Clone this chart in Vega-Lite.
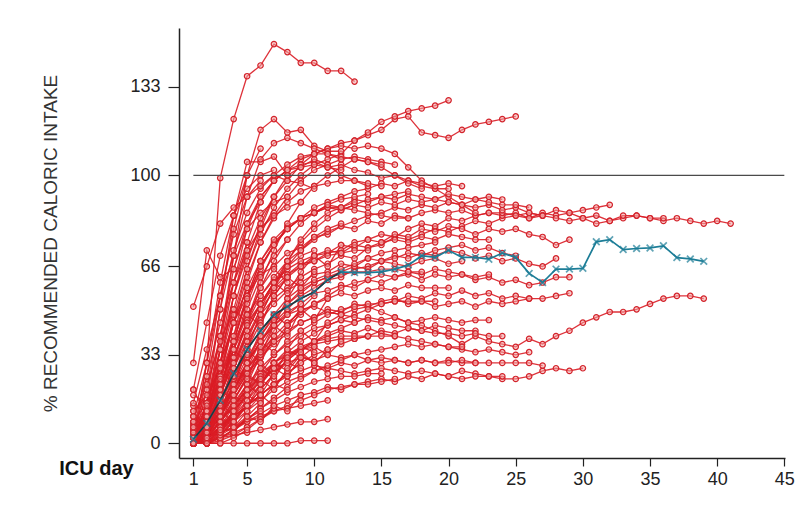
{
"$schema":"https://vega.github.io/schema/vega-lite/v6.json",
"width":606,"height":430,"autosize":"none",
"padding":{"left":179,"top":28,"right":27,"bottom":54},
"config":{"view":{"stroke":null},"font":"Liberation Sans"},
"datasets":{
"mean":[{"d":1,"v":1.5},{"d":2,"v":7.5},{"d":3,"v":16},{"d":4,"v":26},{"d":5,"v":35},{"d":6,"v":42},{"d":7,"v":48},{"d":8,"v":51},{"d":9,"v":54},{"d":10,"v":56.5},{"d":11,"v":61},{"d":12,"v":64},{"d":13,"v":63.7},{"d":14,"v":63.7},{"d":15,"v":64},{"d":16,"v":65},{"d":17,"v":66.5},{"d":18,"v":70},{"d":19,"v":69.4},{"d":20,"v":72},{"d":21,"v":69.4},{"d":22,"v":69.4},{"d":23,"v":68.7},{"d":24,"v":71},{"d":25,"v":69.4},{"d":26,"v":63.4},{"d":27,"v":60},{"d":28,"v":65},{"d":29,"v":65},{"d":30,"v":65.3},{"d":31,"v":75.2},{"d":32,"v":76},{"d":33,"v":72.3},{"d":34,"v":72.7},{"d":35,"v":72.9},{"d":36,"v":73.7},{"d":37,"v":69.3},{"d":38,"v":68.8},{"d":39,"v":67.9}],
"ref":[{"d":1,"v":100},{"d":45,"v":100}],
"red":[
{"p":1,"d":1,"v":0},{"p":1,"d":2,"v":6},{"p":1,"d":3,"v":18},{"p":1,"d":4,"v":30},{"p":1,"d":5,"v":40},{"p":1,"d":6,"v":48},{"p":1,"d":7,"v":54},{"p":1,"d":8,"v":58},{"p":1,"d":9,"v":62},{"p":1,"d":10,"v":65},{"p":1,"d":11,"v":67},{"p":1,"d":12,"v":70},{"p":1,"d":13,"v":69},{"p":1,"d":14,"v":73},{"p":1,"d":15,"v":74},{"p":1,"d":16,"v":77},{"p":1,"d":17,"v":76},{"p":1,"d":18,"v":78},{"p":1,"d":19,"v":80},{"p":1,"d":20,"v":79},{"p":1,"d":21,"v":81},{"p":1,"d":22,"v":83},{"p":1,"d":23,"v":82},{"p":1,"d":24,"v":84},{"p":1,"d":25,"v":85},{"p":1,"d":26,"v":84},{"p":1,"d":27,"v":86},{"p":1,"d":28,"v":85},{"p":1,"d":29,"v":86},{"p":1,"d":30,"v":84},{"p":1,"d":31,"v":85},{"p":1,"d":32,"v":83},{"p":1,"d":33,"v":84},{"p":1,"d":34,"v":85},{"p":1,"d":35,"v":84},{"p":1,"d":36,"v":83},{"p":1,"d":37,"v":84},{"p":1,"d":38,"v":83},{"p":1,"d":39,"v":82},{"p":1,"d":40,"v":83},{"p":1,"d":41,"v":82},
{"p":2,"d":1,"v":5},{"p":2,"d":2,"v":10},{"p":2,"d":3,"v":25},{"p":2,"d":4,"v":38},{"p":2,"d":5,"v":48},{"p":2,"d":6,"v":55},{"p":2,"d":7,"v":61},{"p":2,"d":8,"v":63},{"p":2,"d":9,"v":67},{"p":2,"d":10,"v":68},{"p":2,"d":11,"v":71},{"p":2,"d":12,"v":72},{"p":2,"d":13,"v":75},{"p":2,"d":14,"v":76},{"p":2,"d":15,"v":78},{"p":2,"d":16,"v":77},{"p":2,"d":17,"v":80},{"p":2,"d":18,"v":82},{"p":2,"d":19,"v":81},{"p":2,"d":20,"v":84},{"p":2,"d":21,"v":83},{"p":2,"d":22,"v":85},{"p":2,"d":23,"v":86},{"p":2,"d":24,"v":85},{"p":2,"d":25,"v":86},{"p":2,"d":26,"v":84},{"p":2,"d":27,"v":85},{"p":2,"d":28,"v":84},{"p":2,"d":29,"v":83},{"p":2,"d":30,"v":84},{"p":2,"d":31,"v":82},{"p":2,"d":32,"v":83},{"p":2,"d":33,"v":85},{"p":2,"d":34,"v":85},{"p":2,"d":35,"v":84},{"p":2,"d":36,"v":84},
{"p":3,"d":1,"v":2},{"p":3,"d":2,"v":15},{"p":3,"d":3,"v":30},{"p":3,"d":4,"v":45},{"p":3,"d":5,"v":55},{"p":3,"d":6,"v":63},{"p":3,"d":7,"v":66},{"p":3,"d":8,"v":71},{"p":3,"d":9,"v":73},{"p":3,"d":10,"v":77},{"p":3,"d":11,"v":78},{"p":3,"d":12,"v":81},{"p":3,"d":13,"v":80},{"p":3,"d":14,"v":83},{"p":3,"d":15,"v":82},{"p":3,"d":16,"v":85},{"p":3,"d":17,"v":84},{"p":3,"d":18,"v":86},{"p":3,"d":19,"v":87},{"p":3,"d":20,"v":86},{"p":3,"d":21,"v":87},{"p":3,"d":22,"v":85},{"p":3,"d":23,"v":86},{"p":3,"d":24,"v":86},{"p":3,"d":25,"v":85},{"p":3,"d":26,"v":86},{"p":3,"d":27,"v":85},{"p":3,"d":28,"v":87},{"p":3,"d":29,"v":86},{"p":3,"d":30,"v":87},{"p":3,"d":31,"v":88},{"p":3,"d":32,"v":89},
{"p":4,"d":1,"v":0},{"p":4,"d":2,"v":8},{"p":4,"d":3,"v":22},{"p":4,"d":4,"v":35},{"p":4,"d":5,"v":45},{"p":4,"d":6,"v":52},{"p":4,"d":7,"v":58},{"p":4,"d":8,"v":63},{"p":4,"d":9,"v":66},{"p":4,"d":10,"v":70},{"p":4,"d":11,"v":71},{"p":4,"d":12,"v":74},{"p":4,"d":13,"v":73},{"p":4,"d":14,"v":76},{"p":4,"d":15,"v":75},{"p":4,"d":16,"v":78},{"p":4,"d":17,"v":77},{"p":4,"d":18,"v":80},{"p":4,"d":19,"v":79},{"p":4,"d":20,"v":81},{"p":4,"d":21,"v":80},{"p":4,"d":22,"v":78},{"p":4,"d":23,"v":80},{"p":4,"d":24,"v":79},{"p":4,"d":25,"v":80},{"p":4,"d":26,"v":78},{"p":4,"d":27,"v":77},{"p":4,"d":28,"v":74},{"p":4,"d":29,"v":76},
{"p":5,"d":1,"v":10},{"p":5,"d":2,"v":5},{"p":5,"d":3,"v":15},{"p":5,"d":4,"v":28},{"p":5,"d":5,"v":38},{"p":5,"d":6,"v":46},{"p":5,"d":7,"v":52},{"p":5,"d":8,"v":57},{"p":5,"d":9,"v":60},{"p":5,"d":10,"v":63},{"p":5,"d":11,"v":64},{"p":5,"d":12,"v":67},{"p":5,"d":13,"v":66},{"p":5,"d":14,"v":69},{"p":5,"d":15,"v":68},{"p":5,"d":16,"v":70},{"p":5,"d":17,"v":69},{"p":5,"d":18,"v":71},{"p":5,"d":19,"v":70},{"p":5,"d":20,"v":72},{"p":5,"d":21,"v":71},{"p":5,"d":22,"v":69},{"p":5,"d":23,"v":70},{"p":5,"d":24,"v":68},{"p":5,"d":25,"v":69},{"p":5,"d":26,"v":67},{"p":5,"d":27,"v":66},{"p":5,"d":28,"v":69},
{"p":6,"d":1,"v":0},{"p":6,"d":2,"v":4},{"p":6,"d":3,"v":12},{"p":6,"d":4,"v":22},{"p":6,"d":5,"v":30},{"p":6,"d":6,"v":38},{"p":6,"d":7,"v":44},{"p":6,"d":8,"v":49},{"p":6,"d":9,"v":52},{"p":6,"d":10,"v":56},{"p":6,"d":11,"v":57},{"p":6,"d":12,"v":59},{"p":6,"d":13,"v":58},{"p":6,"d":14,"v":61},{"p":6,"d":15,"v":60},{"p":6,"d":16,"v":62},{"p":6,"d":17,"v":63},{"p":6,"d":18,"v":61},{"p":6,"d":19,"v":63},{"p":6,"d":20,"v":62},{"p":6,"d":21,"v":63},{"p":6,"d":22,"v":61},{"p":6,"d":23,"v":62},{"p":6,"d":24,"v":60},{"p":6,"d":25,"v":61},{"p":6,"d":26,"v":59},{"p":6,"d":27,"v":60},{"p":6,"d":28,"v":62},{"p":6,"d":29,"v":62},
{"p":7,"d":1,"v":0},{"p":7,"d":2,"v":3},{"p":7,"d":3,"v":10},{"p":7,"d":4,"v":18},{"p":7,"d":5,"v":26},{"p":7,"d":6,"v":32},{"p":7,"d":7,"v":37},{"p":7,"d":8,"v":41},{"p":7,"d":9,"v":45},{"p":7,"d":10,"v":47},{"p":7,"d":11,"v":50},{"p":7,"d":12,"v":49},{"p":7,"d":13,"v":52},{"p":7,"d":14,"v":51},{"p":7,"d":15,"v":53},{"p":7,"d":16,"v":54},{"p":7,"d":17,"v":52},{"p":7,"d":18,"v":53},{"p":7,"d":19,"v":51},{"p":7,"d":20,"v":52},{"p":7,"d":21,"v":53},{"p":7,"d":22,"v":51},{"p":7,"d":23,"v":53},{"p":7,"d":24,"v":52},{"p":7,"d":25,"v":53},{"p":7,"d":26,"v":54},{"p":7,"d":27,"v":54},{"p":7,"d":28,"v":55},{"p":7,"d":29,"v":56},
{"p":8,"d":1,"v":0},{"p":8,"d":2,"v":5},{"p":8,"d":3,"v":12},{"p":8,"d":4,"v":20},{"p":8,"d":5,"v":28},{"p":8,"d":6,"v":33},{"p":8,"d":7,"v":38},{"p":8,"d":8,"v":42},{"p":8,"d":9,"v":45},{"p":8,"d":10,"v":47},{"p":8,"d":11,"v":49},{"p":8,"d":12,"v":48},{"p":8,"d":13,"v":50},{"p":8,"d":14,"v":51},{"p":8,"d":15,"v":49},{"p":8,"d":16,"v":47},{"p":8,"d":17,"v":45},{"p":8,"d":18,"v":44},{"p":8,"d":19,"v":42},{"p":8,"d":20,"v":40},{"p":8,"d":21,"v":37},{"p":8,"d":22,"v":40},{"p":8,"d":23,"v":38},{"p":8,"d":24,"v":37},{"p":8,"d":25,"v":36},{"p":8,"d":26,"v":39},{"p":8,"d":27,"v":37},{"p":8,"d":28,"v":40},{"p":8,"d":29,"v":42},{"p":8,"d":30,"v":45},{"p":8,"d":31,"v":47},{"p":8,"d":32,"v":49},{"p":8,"d":33,"v":49},{"p":8,"d":34,"v":50},{"p":8,"d":35,"v":52},{"p":8,"d":36,"v":54},{"p":8,"d":37,"v":55},{"p":8,"d":38,"v":55},{"p":8,"d":39,"v":54},
{"p":9,"d":1,"v":0},{"p":9,"d":2,"v":2},{"p":9,"d":3,"v":6},{"p":9,"d":4,"v":10},{"p":9,"d":5,"v":14},{"p":9,"d":6,"v":18},{"p":9,"d":7,"v":22},{"p":9,"d":8,"v":25},{"p":9,"d":9,"v":27},{"p":9,"d":10,"v":29},{"p":9,"d":11,"v":28},{"p":9,"d":12,"v":27},{"p":9,"d":13,"v":26},{"p":9,"d":14,"v":27},{"p":9,"d":15,"v":28},{"p":9,"d":16,"v":27},{"p":9,"d":17,"v":26},{"p":9,"d":18,"v":27},{"p":9,"d":19,"v":26},{"p":9,"d":20,"v":25},{"p":9,"d":21,"v":27},{"p":9,"d":22,"v":26},{"p":9,"d":23,"v":25},{"p":9,"d":24,"v":24},{"p":9,"d":25,"v":24},{"p":9,"d":26,"v":25},{"p":9,"d":27,"v":27},{"p":9,"d":28,"v":28},{"p":9,"d":29,"v":27},{"p":9,"d":30,"v":28},
{"p":10,"d":1,"v":0},{"p":10,"d":2,"v":3},{"p":10,"d":3,"v":8},{"p":10,"d":4,"v":14},{"p":10,"d":5,"v":20},{"p":10,"d":6,"v":24},{"p":10,"d":7,"v":28},{"p":10,"d":8,"v":30},{"p":10,"d":9,"v":32},{"p":10,"d":10,"v":31},{"p":10,"d":11,"v":33},{"p":10,"d":12,"v":32},{"p":10,"d":13,"v":33},{"p":10,"d":14,"v":31},{"p":10,"d":15,"v":32},{"p":10,"d":16,"v":31},{"p":10,"d":17,"v":30},{"p":10,"d":18,"v":31},{"p":10,"d":19,"v":30},{"p":10,"d":20,"v":31},{"p":10,"d":21,"v":30},{"p":10,"d":22,"v":30},{"p":10,"d":23,"v":30},{"p":10,"d":24,"v":30},{"p":10,"d":25,"v":30},{"p":10,"d":26,"v":30},{"p":10,"d":27,"v":29},
{"p":11,"d":1,"v":0},{"p":11,"d":2,"v":12},{"p":11,"d":3,"v":35},{"p":11,"d":4,"v":60},{"p":11,"d":5,"v":80},{"p":11,"d":6,"v":92},{"p":11,"d":7,"v":98},{"p":11,"d":8,"v":102},{"p":11,"d":9,"v":106},{"p":11,"d":10,"v":108},{"p":11,"d":11,"v":110},{"p":11,"d":12,"v":112},{"p":11,"d":13,"v":113},{"p":11,"d":14,"v":115},{"p":11,"d":15,"v":117},{"p":11,"d":16,"v":121},{"p":11,"d":17,"v":122},{"p":11,"d":18,"v":116},{"p":11,"d":19,"v":115},{"p":11,"d":20,"v":114},{"p":11,"d":21,"v":117},{"p":11,"d":22,"v":119},{"p":11,"d":23,"v":120},{"p":11,"d":24,"v":121},{"p":11,"d":25,"v":122},
{"p":12,"d":1,"v":0},{"p":12,"d":2,"v":8},{"p":12,"d":3,"v":25},{"p":12,"d":4,"v":48},{"p":12,"d":5,"v":65},{"p":12,"d":6,"v":78},{"p":12,"d":7,"v":88},{"p":12,"d":8,"v":95},{"p":12,"d":9,"v":100},{"p":12,"d":10,"v":104},{"p":12,"d":11,"v":106},{"p":12,"d":12,"v":108},{"p":12,"d":13,"v":113},{"p":12,"d":14,"v":116},{"p":12,"d":15,"v":120},{"p":12,"d":16,"v":122},{"p":12,"d":17,"v":124},{"p":12,"d":18,"v":125},{"p":12,"d":19,"v":126},{"p":12,"d":20,"v":128},
{"p":13,"d":1,"v":0},{"p":13,"d":2,"v":10},{"p":13,"d":3,"v":30},{"p":13,"d":4,"v":55},{"p":13,"d":5,"v":72},{"p":13,"d":6,"v":84},{"p":13,"d":7,"v":92},{"p":13,"d":8,"v":98},{"p":13,"d":9,"v":104},{"p":13,"d":10,"v":108},{"p":13,"d":11,"v":110},{"p":13,"d":12,"v":111},{"p":13,"d":13,"v":110},{"p":13,"d":14,"v":111},{"p":13,"d":15,"v":110},{"p":13,"d":16,"v":108},{"p":13,"d":17,"v":103},{"p":13,"d":18,"v":98},{"p":13,"d":19,"v":95},{"p":13,"d":20,"v":92},{"p":13,"d":21,"v":89},{"p":13,"d":22,"v":86},
{"p":14,"d":1,"v":0},{"p":14,"d":2,"v":2},{"p":14,"d":3,"v":8},{"p":14,"d":4,"v":15},{"p":14,"d":5,"v":22},{"p":14,"d":6,"v":28},{"p":14,"d":7,"v":33},{"p":14,"d":8,"v":37},{"p":14,"d":9,"v":40},{"p":14,"d":10,"v":43},{"p":14,"d":11,"v":44},{"p":14,"d":12,"v":46},{"p":14,"d":13,"v":45},{"p":14,"d":14,"v":47},{"p":14,"d":15,"v":46},{"p":14,"d":16,"v":47},{"p":14,"d":17,"v":45},{"p":14,"d":18,"v":46},{"p":14,"d":19,"v":47},{"p":14,"d":20,"v":46},{"p":14,"d":21,"v":45},{"p":14,"d":22,"v":46},{"p":14,"d":23,"v":46},
{"p":15,"d":1,"v":0},{"p":15,"d":2,"v":10},{"p":15,"d":3,"v":28},{"p":15,"d":4,"v":45},{"p":15,"d":5,"v":58},{"p":15,"d":6,"v":68},{"p":15,"d":7,"v":75},{"p":15,"d":8,"v":80},{"p":15,"d":9,"v":84},{"p":15,"d":10,"v":86},{"p":15,"d":11,"v":89},{"p":15,"d":12,"v":88},{"p":15,"d":13,"v":91},{"p":15,"d":14,"v":90},{"p":15,"d":15,"v":92},{"p":15,"d":16,"v":91},{"p":15,"d":17,"v":93},{"p":15,"d":18,"v":92},{"p":15,"d":19,"v":91},{"p":15,"d":20,"v":93},{"p":15,"d":21,"v":92},{"p":15,"d":22,"v":91},{"p":15,"d":23,"v":92},{"p":15,"d":24,"v":91},
{"p":16,"d":1,"v":12},{"p":16,"d":2,"v":5},{"p":16,"d":3,"v":18},{"p":16,"d":4,"v":32},{"p":16,"d":5,"v":45},{"p":16,"d":6,"v":55},{"p":16,"d":7,"v":62},{"p":16,"d":8,"v":68},{"p":16,"d":9,"v":72},{"p":16,"d":10,"v":76},{"p":16,"d":11,"v":79},{"p":16,"d":12,"v":81},{"p":16,"d":13,"v":83},{"p":16,"d":14,"v":85},{"p":16,"d":15,"v":86},{"p":16,"d":16,"v":88},{"p":16,"d":17,"v":87},{"p":16,"d":18,"v":89},{"p":16,"d":19,"v":88},{"p":16,"d":20,"v":90},{"p":16,"d":21,"v":89},{"p":16,"d":22,"v":88},{"p":16,"d":23,"v":89},{"p":16,"d":24,"v":87},{"p":16,"d":25,"v":88},{"p":16,"d":26,"v":86},{"p":16,"d":27,"v":85},
{"p":17,"d":1,"v":0},{"p":17,"d":2,"v":3},{"p":17,"d":3,"v":10},{"p":17,"d":4,"v":20},{"p":17,"d":5,"v":30},{"p":17,"d":6,"v":38},{"p":17,"d":7,"v":45},{"p":17,"d":8,"v":50},{"p":17,"d":9,"v":55},{"p":17,"d":10,"v":58},{"p":17,"d":11,"v":61},{"p":17,"d":12,"v":62},{"p":17,"d":13,"v":65},{"p":17,"d":14,"v":66},{"p":17,"d":15,"v":68},{"p":17,"d":16,"v":69},{"p":17,"d":17,"v":71},{"p":17,"d":18,"v":70},{"p":17,"d":19,"v":72},{"p":17,"d":20,"v":73},{"p":17,"d":21,"v":74},{"p":17,"d":22,"v":72},{"p":17,"d":23,"v":73},{"p":17,"d":24,"v":71},{"p":17,"d":25,"v":70},
{"p":18,"d":1,"v":0},{"p":18,"d":2,"v":2},{"p":18,"d":3,"v":6},{"p":18,"d":4,"v":12},{"p":18,"d":5,"v":18},{"p":18,"d":6,"v":24},{"p":18,"d":7,"v":30},{"p":18,"d":8,"v":34},{"p":18,"d":9,"v":38},{"p":18,"d":10,"v":41},{"p":18,"d":11,"v":44},{"p":18,"d":12,"v":46},{"p":18,"d":13,"v":48},{"p":18,"d":14,"v":50},{"p":18,"d":15,"v":52},{"p":18,"d":16,"v":53},{"p":18,"d":17,"v":55},{"p":18,"d":18,"v":54},{"p":18,"d":19,"v":56},{"p":18,"d":20,"v":55},{"p":18,"d":21,"v":57},{"p":18,"d":22,"v":55},{"p":18,"d":23,"v":56},{"p":18,"d":24,"v":54},{"p":18,"d":25,"v":55},{"p":18,"d":26,"v":54},
{"p":19,"d":1,"v":0},{"p":19,"d":2,"v":2},{"p":19,"d":3,"v":5},{"p":19,"d":4,"v":9},{"p":19,"d":5,"v":14},{"p":19,"d":6,"v":18},{"p":19,"d":7,"v":22},{"p":19,"d":8,"v":26},{"p":19,"d":9,"v":30},{"p":19,"d":10,"v":33},{"p":19,"d":11,"v":35},{"p":19,"d":12,"v":37},{"p":19,"d":13,"v":39},{"p":19,"d":14,"v":40},{"p":19,"d":15,"v":42},{"p":19,"d":16,"v":41},{"p":19,"d":17,"v":43},{"p":19,"d":18,"v":42},{"p":19,"d":19,"v":44},{"p":19,"d":20,"v":43},{"p":19,"d":21,"v":42},{"p":19,"d":22,"v":42},
{"p":20,"d":1,"v":0},{"p":20,"d":2,"v":4},{"p":20,"d":3,"v":12},{"p":20,"d":4,"v":22},{"p":20,"d":5,"v":32},{"p":20,"d":6,"v":40},{"p":20,"d":7,"v":47},{"p":20,"d":8,"v":52},{"p":20,"d":9,"v":56},{"p":20,"d":10,"v":60},{"p":20,"d":11,"v":62},{"p":20,"d":12,"v":64},{"p":20,"d":13,"v":66},{"p":20,"d":14,"v":65},{"p":20,"d":15,"v":68},{"p":20,"d":16,"v":67},{"p":20,"d":17,"v":66},{"p":20,"d":18,"v":68},{"p":20,"d":19,"v":69},{"p":20,"d":20,"v":67},{"p":20,"d":21,"v":68},
{"p":21,"d":1,"v":4},{"p":21,"d":2,"v":6},{"p":21,"d":3,"v":18},{"p":21,"d":4,"v":35},{"p":21,"d":5,"v":52},{"p":21,"d":6,"v":65},{"p":21,"d":7,"v":74},{"p":21,"d":8,"v":80},{"p":21,"d":9,"v":84},{"p":21,"d":10,"v":88},{"p":21,"d":11,"v":90},{"p":21,"d":12,"v":92},{"p":21,"d":13,"v":94},{"p":21,"d":14,"v":95},{"p":21,"d":15,"v":97},{"p":21,"d":16,"v":96},{"p":21,"d":17,"v":98},{"p":21,"d":18,"v":96},{"p":21,"d":19,"v":95},{"p":21,"d":20,"v":95},
{"p":22,"d":1,"v":0},{"p":22,"d":2,"v":2},{"p":22,"d":3,"v":8},{"p":22,"d":4,"v":16},{"p":22,"d":5,"v":24},{"p":22,"d":6,"v":32},{"p":22,"d":7,"v":38},{"p":22,"d":8,"v":44},{"p":22,"d":9,"v":48},{"p":22,"d":10,"v":52},{"p":22,"d":11,"v":55},{"p":22,"d":12,"v":58},{"p":22,"d":13,"v":60},{"p":22,"d":14,"v":61},{"p":22,"d":15,"v":63},{"p":22,"d":16,"v":62},{"p":22,"d":17,"v":64},{"p":22,"d":18,"v":63},{"p":22,"d":19,"v":65},{"p":22,"d":20,"v":64},{"p":22,"d":21,"v":63},{"p":22,"d":22,"v":62},{"p":22,"d":23,"v":63},
{"p":23,"d":1,"v":0},{"p":23,"d":2,"v":0},{"p":23,"d":3,"v":3},{"p":23,"d":4,"v":8},{"p":23,"d":5,"v":14},{"p":23,"d":6,"v":20},{"p":23,"d":7,"v":26},{"p":23,"d":8,"v":31},{"p":23,"d":9,"v":35},{"p":23,"d":10,"v":38},{"p":23,"d":11,"v":40},{"p":23,"d":12,"v":42},{"p":23,"d":13,"v":41},{"p":23,"d":14,"v":43},{"p":23,"d":15,"v":41},{"p":23,"d":16,"v":40},{"p":23,"d":17,"v":39},{"p":23,"d":18,"v":38},{"p":23,"d":19,"v":37},{"p":23,"d":20,"v":36},{"p":23,"d":21,"v":35},{"p":23,"d":22,"v":34},{"p":23,"d":23,"v":35},{"p":23,"d":24,"v":34},{"p":23,"d":25,"v":33},{"p":23,"d":26,"v":34},
{"p":24,"d":1,"v":0},{"p":24,"d":2,"v":0},{"p":24,"d":3,"v":2},{"p":24,"d":4,"v":5},{"p":24,"d":5,"v":8},{"p":24,"d":6,"v":11},{"p":24,"d":7,"v":14},{"p":24,"d":8,"v":16},{"p":24,"d":9,"v":18},{"p":24,"d":10,"v":19},{"p":24,"d":11,"v":21},{"p":24,"d":12,"v":20},{"p":24,"d":13,"v":22},{"p":24,"d":14,"v":23},{"p":24,"d":15,"v":24},{"p":24,"d":16,"v":23},{"p":24,"d":17,"v":25},{"p":24,"d":18,"v":24},{"p":24,"d":19,"v":26},{"p":24,"d":20,"v":25},{"p":24,"d":21,"v":24},{"p":24,"d":22,"v":25},{"p":24,"d":23,"v":25},{"p":24,"d":24,"v":25},
{"p":25,"d":1,"v":0},{"p":25,"d":2,"v":1},{"p":25,"d":3,"v":4},{"p":25,"d":4,"v":8},{"p":25,"d":5,"v":12},{"p":25,"d":6,"v":16},{"p":25,"d":7,"v":20},{"p":25,"d":8,"v":23},{"p":25,"d":9,"v":25},{"p":25,"d":10,"v":27},{"p":25,"d":11,"v":28},{"p":25,"d":12,"v":30},{"p":25,"d":13,"v":29},{"p":25,"d":14,"v":31},{"p":25,"d":15,"v":30},{"p":25,"d":16,"v":31},{"p":25,"d":17,"v":30},{"p":25,"d":18,"v":31},{"p":25,"d":19,"v":30},{"p":25,"d":20,"v":30},{"p":25,"d":21,"v":31},{"p":25,"d":22,"v":30},
{"p":26,"d":1,"v":0},{"p":26,"d":2,"v":3},{"p":26,"d":3,"v":10},{"p":26,"d":4,"v":20},{"p":26,"d":5,"v":30},{"p":26,"d":6,"v":38},{"p":26,"d":7,"v":44},{"p":26,"d":8,"v":48},{"p":26,"d":9,"v":50},{"p":26,"d":10,"v":51},{"p":26,"d":11,"v":49},{"p":26,"d":12,"v":48},{"p":26,"d":13,"v":47},{"p":26,"d":14,"v":46},{"p":26,"d":15,"v":45},{"p":26,"d":16,"v":44},{"p":26,"d":17,"v":43},{"p":26,"d":18,"v":42},{"p":26,"d":19,"v":41},{"p":26,"d":20,"v":41},{"p":26,"d":21,"v":40},{"p":26,"d":22,"v":41},{"p":26,"d":23,"v":40},{"p":26,"d":24,"v":40},
{"p":27,"d":1,"v":18},{"p":27,"d":2,"v":15},{"p":27,"d":3,"v":40},{"p":27,"d":4,"v":65},{"p":27,"d":5,"v":82},{"p":27,"d":6,"v":92},{"p":27,"d":7,"v":98},{"p":27,"d":8,"v":102},{"p":27,"d":9,"v":104},{"p":27,"d":10,"v":105},{"p":27,"d":11,"v":103},{"p":27,"d":12,"v":104},{"p":27,"d":13,"v":102},{"p":27,"d":14,"v":101},{"p":27,"d":15,"v":99},{"p":27,"d":16,"v":100},{"p":27,"d":17,"v":98},{"p":27,"d":18,"v":97},{"p":27,"d":19,"v":96},{"p":27,"d":20,"v":97},{"p":27,"d":21,"v":96},
{"p":28,"d":1,"v":6},{"p":28,"d":2,"v":6},{"p":28,"d":3,"v":20},{"p":28,"d":4,"v":38},{"p":28,"d":5,"v":55},{"p":28,"d":6,"v":68},{"p":28,"d":7,"v":76},{"p":28,"d":8,"v":81},{"p":28,"d":9,"v":84},{"p":28,"d":10,"v":86},{"p":28,"d":11,"v":88},{"p":28,"d":12,"v":87},{"p":28,"d":13,"v":89},{"p":28,"d":14,"v":88},{"p":28,"d":15,"v":90},{"p":28,"d":16,"v":89},{"p":28,"d":17,"v":91},{"p":28,"d":18,"v":90},{"p":28,"d":19,"v":91},{"p":28,"d":20,"v":90},{"p":28,"d":21,"v":89},{"p":28,"d":22,"v":91},{"p":28,"d":23,"v":90},{"p":28,"d":24,"v":89},{"p":28,"d":25,"v":89},{"p":28,"d":26,"v":88},
{"p":29,"d":1,"v":0},{"p":29,"d":2,"v":4},{"p":29,"d":3,"v":14},{"p":29,"d":4,"v":28},{"p":29,"d":5,"v":42},{"p":29,"d":6,"v":52},{"p":29,"d":7,"v":60},{"p":29,"d":8,"v":65},{"p":29,"d":9,"v":68},{"p":29,"d":10,"v":70},{"p":29,"d":11,"v":72},{"p":29,"d":12,"v":71},{"p":29,"d":13,"v":74},{"p":29,"d":14,"v":73},{"p":29,"d":15,"v":75},{"p":29,"d":16,"v":76},{"p":29,"d":17,"v":75},{"p":29,"d":18,"v":77},{"p":29,"d":19,"v":76},{"p":29,"d":20,"v":78},{"p":29,"d":21,"v":77},{"p":29,"d":22,"v":76},{"p":29,"d":23,"v":76},
{"p":30,"d":1,"v":0},{"p":30,"d":2,"v":2},{"p":30,"d":3,"v":8},{"p":30,"d":4,"v":16},{"p":30,"d":5,"v":25},{"p":30,"d":6,"v":33},{"p":30,"d":7,"v":40},{"p":30,"d":8,"v":45},{"p":30,"d":9,"v":49},{"p":30,"d":10,"v":52},{"p":30,"d":11,"v":54},{"p":30,"d":12,"v":56},{"p":30,"d":13,"v":55},{"p":30,"d":14,"v":57},{"p":30,"d":15,"v":58},{"p":30,"d":16,"v":57},{"p":30,"d":17,"v":59},{"p":30,"d":18,"v":58},{"p":30,"d":19,"v":58},{"p":30,"d":20,"v":58},
{"p":31,"d":1,"v":0},{"p":31,"d":2,"v":0},{"p":31,"d":3,"v":2},{"p":31,"d":4,"v":5},{"p":31,"d":5,"v":9},{"p":31,"d":6,"v":13},{"p":31,"d":7,"v":17},{"p":31,"d":8,"v":21},{"p":31,"d":9,"v":24},{"p":31,"d":10,"v":27},{"p":31,"d":11,"v":29},{"p":31,"d":12,"v":31},{"p":31,"d":13,"v":33},{"p":31,"d":14,"v":34},{"p":31,"d":15,"v":35},{"p":31,"d":16,"v":36},{"p":31,"d":17,"v":37},{"p":31,"d":18,"v":36},{"p":31,"d":19,"v":37},{"p":31,"d":20,"v":36},{"p":31,"d":21,"v":36},
{"p":32,"d":1,"v":3},{"p":32,"d":2,"v":30},{"p":32,"d":3,"v":99},{"p":32,"d":4,"v":121},{"p":32,"d":5,"v":137},{"p":32,"d":6,"v":141},{"p":32,"d":7,"v":149},{"p":32,"d":8,"v":146},{"p":32,"d":9,"v":142},{"p":32,"d":10,"v":142},{"p":32,"d":11,"v":139},{"p":32,"d":12,"v":139},{"p":32,"d":13,"v":135},
{"p":33,"d":1,"v":0},{"p":33,"d":2,"v":8},{"p":33,"d":3,"v":35},{"p":33,"d":4,"v":70},{"p":33,"d":5,"v":100},{"p":33,"d":6,"v":117},{"p":33,"d":7,"v":121},{"p":33,"d":8,"v":116},{"p":33,"d":9,"v":117},{"p":33,"d":10,"v":111},{"p":33,"d":11,"v":109},{"p":33,"d":12,"v":109},
{"p":34,"d":1,"v":0},{"p":34,"d":2,"v":15},{"p":34,"d":3,"v":50},{"p":34,"d":4,"v":85},{"p":34,"d":5,"v":105},{"p":34,"d":6,"v":105},{"p":34,"d":7,"v":107},{"p":34,"d":8,"v":100},{"p":34,"d":9,"v":103},{"p":34,"d":10,"v":106},{"p":34,"d":11,"v":104},{"p":34,"d":12,"v":100},{"p":34,"d":13,"v":98},{"p":34,"d":14,"v":96},
{"p":35,"d":1,"v":0},{"p":35,"d":2,"v":5},{"p":35,"d":3,"v":20},{"p":35,"d":4,"v":40},{"p":35,"d":5,"v":60},{"p":35,"d":6,"v":75},{"p":35,"d":7,"v":85},{"p":35,"d":8,"v":92},{"p":35,"d":9,"v":98},{"p":35,"d":10,"v":102},{"p":35,"d":11,"v":104},{"p":35,"d":12,"v":106},{"p":35,"d":13,"v":107},{"p":35,"d":14,"v":106},{"p":35,"d":15,"v":105},{"p":35,"d":16,"v":104},
{"p":36,"d":1,"v":0},{"p":36,"d":2,"v":3},{"p":36,"d":3,"v":12},{"p":36,"d":4,"v":25},{"p":36,"d":5,"v":38},{"p":36,"d":6,"v":50},{"p":36,"d":7,"v":60},{"p":36,"d":8,"v":68},{"p":36,"d":9,"v":75},{"p":36,"d":10,"v":80},{"p":36,"d":11,"v":84},{"p":36,"d":12,"v":87},{"p":36,"d":13,"v":89},{"p":36,"d":14,"v":91},{"p":36,"d":15,"v":92},{"p":36,"d":16,"v":93},{"p":36,"d":17,"v":94},
{"p":37,"d":1,"v":0},{"p":37,"d":2,"v":8},{"p":37,"d":3,"v":25},{"p":37,"d":4,"v":45},{"p":37,"d":5,"v":62},{"p":37,"d":6,"v":75},{"p":37,"d":7,"v":84},{"p":37,"d":8,"v":90},{"p":37,"d":9,"v":94},{"p":37,"d":10,"v":96},{"p":37,"d":11,"v":97},{"p":37,"d":12,"v":98},{"p":37,"d":13,"v":98},{"p":37,"d":14,"v":97},{"p":37,"d":15,"v":96},
{"p":38,"d":1,"v":0},{"p":38,"d":2,"v":2},{"p":38,"d":3,"v":8},{"p":38,"d":4,"v":18},{"p":38,"d":5,"v":28},{"p":38,"d":6,"v":38},{"p":38,"d":7,"v":46},{"p":38,"d":8,"v":52},{"p":38,"d":9,"v":57},{"p":38,"d":10,"v":60},{"p":38,"d":11,"v":62},{"p":38,"d":12,"v":63},{"p":38,"d":13,"v":64},{"p":38,"d":14,"v":64},{"p":38,"d":15,"v":65},{"p":38,"d":16,"v":65},{"p":38,"d":17,"v":64},{"p":38,"d":18,"v":64},
{"p":39,"d":1,"v":0},{"p":39,"d":2,"v":5},{"p":39,"d":3,"v":15},{"p":39,"d":4,"v":28},{"p":39,"d":5,"v":40},{"p":39,"d":6,"v":50},{"p":39,"d":7,"v":57},{"p":39,"d":8,"v":62},{"p":39,"d":9,"v":66},{"p":39,"d":10,"v":68},{"p":39,"d":11,"v":70},{"p":39,"d":12,"v":71},{"p":39,"d":13,"v":72},{"p":39,"d":14,"v":72},
{"p":40,"d":1,"v":0},{"p":40,"d":2,"v":0},{"p":40,"d":3,"v":4},{"p":40,"d":4,"v":10},{"p":40,"d":5,"v":18},{"p":40,"d":6,"v":26},{"p":40,"d":7,"v":33},{"p":40,"d":8,"v":38},{"p":40,"d":9,"v":42},{"p":40,"d":10,"v":45},{"p":40,"d":11,"v":48},{"p":40,"d":12,"v":50},{"p":40,"d":13,"v":51},{"p":40,"d":14,"v":52},{"p":40,"d":15,"v":52},{"p":40,"d":16,"v":53},{"p":40,"d":17,"v":53},{"p":40,"d":18,"v":53},{"p":40,"d":19,"v":53},
{"p":41,"d":1,"v":0},{"p":41,"d":2,"v":2},{"p":41,"d":3,"v":6},{"p":41,"d":4,"v":12},{"p":41,"d":5,"v":18},{"p":41,"d":6,"v":23},{"p":41,"d":7,"v":28},{"p":41,"d":8,"v":32},{"p":41,"d":9,"v":35},{"p":41,"d":10,"v":37},{"p":41,"d":11,"v":38},{"p":41,"d":12,"v":39},{"p":41,"d":13,"v":39},{"p":41,"d":14,"v":40},{"p":41,"d":15,"v":40},{"p":41,"d":16,"v":40},
{"p":42,"d":1,"v":0},{"p":42,"d":2,"v":0},{"p":42,"d":3,"v":2},{"p":42,"d":4,"v":5},{"p":42,"d":5,"v":9},{"p":42,"d":6,"v":13},{"p":42,"d":7,"v":16},{"p":42,"d":8,"v":19},{"p":42,"d":9,"v":21},{"p":42,"d":10,"v":23},{"p":42,"d":11,"v":24},{"p":42,"d":12,"v":25},{"p":42,"d":13,"v":25},{"p":42,"d":14,"v":26},{"p":42,"d":15,"v":26},
{"p":43,"d":1,"v":0},{"p":43,"d":2,"v":0},{"p":43,"d":3,"v":1},{"p":43,"d":4,"v":3},{"p":43,"d":5,"v":6},{"p":43,"d":6,"v":9},{"p":43,"d":7,"v":12},{"p":43,"d":8,"v":14},{"p":43,"d":9,"v":16},{"p":43,"d":10,"v":18},{"p":43,"d":11,"v":20},{"p":43,"d":12,"v":21},{"p":43,"d":13,"v":22},{"p":43,"d":14,"v":22},{"p":43,"d":15,"v":23},{"p":43,"d":16,"v":24},
{"p":44,"d":1,"v":8},{"p":44,"d":2,"v":4},{"p":44,"d":3,"v":12},{"p":44,"d":4,"v":24},{"p":44,"d":5,"v":36},{"p":44,"d":6,"v":48},{"p":44,"d":7,"v":58},{"p":44,"d":8,"v":66},{"p":44,"d":9,"v":72},{"p":44,"d":10,"v":77},{"p":44,"d":11,"v":80},{"p":44,"d":12,"v":82},
{"p":45,"d":1,"v":0},{"p":45,"d":2,"v":3},{"p":45,"d":3,"v":10},{"p":45,"d":4,"v":22},{"p":45,"d":5,"v":35},{"p":45,"d":6,"v":48},{"p":45,"d":7,"v":58},{"p":45,"d":8,"v":68},{"p":45,"d":9,"v":76},{"p":45,"d":10,"v":82},{"p":45,"d":11,"v":86},{"p":45,"d":12,"v":88},{"p":45,"d":13,"v":90},
{"p":46,"d":1,"v":3},{"p":46,"d":2,"v":6},{"p":46,"d":3,"v":20},{"p":46,"d":4,"v":38},{"p":46,"d":5,"v":54},{"p":46,"d":6,"v":66},{"p":46,"d":7,"v":74},{"p":46,"d":8,"v":80},{"p":46,"d":9,"v":84},{"p":46,"d":10,"v":86},{"p":46,"d":11,"v":88},{"p":46,"d":12,"v":88},{"p":46,"d":13,"v":87},{"p":46,"d":14,"v":86},{"p":46,"d":15,"v":85},{"p":46,"d":16,"v":84},{"p":46,"d":17,"v":84},
{"p":47,"d":1,"v":0},{"p":47,"d":2,"v":4},{"p":47,"d":3,"v":14},{"p":47,"d":4,"v":30},{"p":47,"d":5,"v":46},{"p":47,"d":6,"v":60},{"p":47,"d":7,"v":72},{"p":47,"d":8,"v":82},{"p":47,"d":9,"v":90},{"p":47,"d":10,"v":96},{"p":47,"d":11,"v":100},{"p":47,"d":12,"v":103},{"p":47,"d":13,"v":106},{"p":47,"d":14,"v":105},{"p":47,"d":15,"v":103},{"p":47,"d":16,"v":100},{"p":47,"d":17,"v":97},{"p":47,"d":18,"v":95},
{"p":48,"d":1,"v":0},{"p":48,"d":2,"v":2},{"p":48,"d":3,"v":5},{"p":48,"d":4,"v":10},{"p":48,"d":5,"v":16},{"p":48,"d":6,"v":22},{"p":48,"d":7,"v":28},{"p":48,"d":8,"v":33},{"p":48,"d":9,"v":36},{"p":48,"d":10,"v":38},{"p":48,"d":11,"v":39},{"p":48,"d":12,"v":40},{"p":48,"d":13,"v":40},{"p":48,"d":14,"v":40},
{"p":49,"d":1,"v":0},{"p":49,"d":2,"v":3},{"p":49,"d":3,"v":10},{"p":49,"d":4,"v":20},{"p":49,"d":5,"v":30},{"p":49,"d":6,"v":40},{"p":49,"d":7,"v":48},{"p":49,"d":8,"v":54},{"p":49,"d":9,"v":58},{"p":49,"d":10,"v":61},{"p":49,"d":11,"v":63},{"p":49,"d":12,"v":65},{"p":49,"d":13,"v":67},{"p":49,"d":14,"v":69},{"p":49,"d":15,"v":71},{"p":49,"d":16,"v":72},{"p":49,"d":17,"v":73},{"p":49,"d":18,"v":74},{"p":49,"d":19,"v":75},
{"p":50,"d":1,"v":0},{"p":50,"d":2,"v":0},{"p":50,"d":3,"v":3},{"p":50,"d":4,"v":8},{"p":50,"d":5,"v":14},{"p":50,"d":6,"v":20},{"p":50,"d":7,"v":26},{"p":50,"d":8,"v":31},{"p":50,"d":9,"v":35},{"p":50,"d":10,"v":38},{"p":50,"d":11,"v":41},{"p":50,"d":12,"v":43},{"p":50,"d":13,"v":45},
{"p":51,"d":1,"v":0},{"p":51,"d":2,"v":0},{"p":51,"d":3,"v":0},{"p":51,"d":4,"v":0},{"p":51,"d":5,"v":0},{"p":51,"d":6,"v":0},{"p":51,"d":7,"v":0},{"p":51,"d":8,"v":0},{"p":51,"d":9,"v":1},{"p":51,"d":10,"v":1},{"p":51,"d":11,"v":1},
{"p":52,"d":1,"v":0},{"p":52,"d":2,"v":1},{"p":52,"d":3,"v":2},{"p":52,"d":4,"v":3},{"p":52,"d":5,"v":4},{"p":52,"d":6,"v":5},{"p":52,"d":7,"v":6},{"p":52,"d":8,"v":7},{"p":52,"d":9,"v":8},{"p":52,"d":10,"v":8},{"p":52,"d":11,"v":9},
{"p":53,"d":1,"v":0},{"p":53,"d":2,"v":2},{"p":53,"d":3,"v":4},{"p":53,"d":4,"v":6},{"p":53,"d":5,"v":8},{"p":53,"d":6,"v":10},{"p":53,"d":7,"v":12},{"p":53,"d":8,"v":13},{"p":53,"d":9,"v":14},{"p":53,"d":10,"v":15},{"p":53,"d":11,"v":16},
{"p":54,"d":1,"v":0},{"p":54,"d":2,"v":3},{"p":54,"d":3,"v":8},{"p":54,"d":4,"v":14},{"p":54,"d":5,"v":20},{"p":54,"d":6,"v":26},{"p":54,"d":7,"v":30},{"p":54,"d":8,"v":33},{"p":54,"d":9,"v":35},{"p":54,"d":10,"v":36},
{"p":55,"d":1,"v":20},{"p":55,"d":2,"v":10},{"p":55,"d":3,"v":30},{"p":55,"d":4,"v":55},{"p":55,"d":5,"v":75},{"p":55,"d":6,"v":90},{"p":55,"d":7,"v":98},{"p":55,"d":8,"v":102},{"p":55,"d":9,"v":103},{"p":55,"d":10,"v":104},{"p":55,"d":11,"v":103},{"p":55,"d":12,"v":102},
{"p":56,"d":1,"v":0},{"p":56,"d":2,"v":20},{"p":56,"d":3,"v":50},{"p":56,"d":4,"v":72},{"p":56,"d":5,"v":86},{"p":56,"d":6,"v":95},{"p":56,"d":7,"v":100},{"p":56,"d":8,"v":104},{"p":56,"d":9,"v":107},{"p":56,"d":10,"v":108},{"p":56,"d":11,"v":108},{"p":56,"d":12,"v":107},{"p":56,"d":13,"v":106},{"p":56,"d":14,"v":105},{"p":56,"d":15,"v":104},
{"p":57,"d":1,"v":14},{"p":57,"d":2,"v":12},{"p":57,"d":3,"v":40},{"p":57,"d":4,"v":70},{"p":57,"d":5,"v":92},{"p":57,"d":6,"v":106},{"p":57,"d":7,"v":112},{"p":57,"d":8,"v":114},{"p":57,"d":9,"v":112},{"p":57,"d":10,"v":110},{"p":57,"d":11,"v":108},{"p":57,"d":12,"v":106},
{"p":58,"d":1,"v":7},{"p":58,"d":2,"v":6},{"p":58,"d":3,"v":18},{"p":58,"d":4,"v":32},{"p":58,"d":5,"v":46},{"p":58,"d":6,"v":58},{"p":58,"d":7,"v":68},{"p":58,"d":8,"v":76},{"p":58,"d":9,"v":82},{"p":58,"d":10,"v":86},{"p":58,"d":11,"v":89},{"p":58,"d":12,"v":91},{"p":58,"d":13,"v":92},{"p":58,"d":14,"v":93},
{"p":59,"d":1,"v":51},{"p":59,"d":2,"v":66},{"p":59,"d":3,"v":82},{"p":59,"d":4,"v":88},{"p":59,"d":5,"v":92},{"p":59,"d":6,"v":96},{"p":59,"d":7,"v":100},{"p":59,"d":8,"v":98},{"p":59,"d":9,"v":97},{"p":59,"d":10,"v":95},
{"p":60,"d":1,"v":30},{"p":60,"d":2,"v":72},{"p":60,"d":3,"v":62},{"p":60,"d":4,"v":65},{"p":60,"d":5,"v":80},{"p":60,"d":6,"v":86},{"p":60,"d":7,"v":90},{"p":60,"d":8,"v":92},
{"p":61,"d":1,"v":20},{"p":61,"d":2,"v":45},{"p":61,"d":3,"v":70},{"p":61,"d":4,"v":85},{"p":61,"d":5,"v":95},{"p":61,"d":6,"v":100},{"p":61,"d":7,"v":102},
{"p":62,"d":1,"v":10},{"p":62,"d":2,"v":30},{"p":62,"d":3,"v":55},{"p":62,"d":4,"v":78},{"p":62,"d":5,"v":92},{"p":62,"d":6,"v":98},
{"p":63,"d":1,"v":5},{"p":63,"d":2,"v":20},{"p":63,"d":3,"v":40},{"p":63,"d":4,"v":60},{"p":63,"d":5,"v":75},
{"p":64,"d":1,"v":0},{"p":64,"d":2,"v":15},{"p":64,"d":3,"v":30},{"p":64,"d":4,"v":45},{"p":64,"d":5,"v":58},
{"p":65,"d":1,"v":0},{"p":65,"d":2,"v":10},{"p":65,"d":3,"v":22},{"p":65,"d":4,"v":35},
{"p":66,"d":1,"v":2},{"p":66,"d":2,"v":8},{"p":66,"d":3,"v":16},{"p":66,"d":4,"v":25},{"p":66,"d":5,"v":33},
{"p":67,"d":1,"v":0},{"p":67,"d":2,"v":5},{"p":67,"d":3,"v":12},{"p":67,"d":4,"v":20},{"p":67,"d":5,"v":28},{"p":67,"d":6,"v":35},
{"p":68,"d":1,"v":0},{"p":68,"d":2,"v":3},{"p":68,"d":3,"v":8},{"p":68,"d":4,"v":14},{"p":68,"d":5,"v":20},{"p":68,"d":6,"v":25},{"p":68,"d":7,"v":30},
{"p":69,"d":1,"v":0},{"p":69,"d":2,"v":2},{"p":69,"d":3,"v":5},{"p":69,"d":4,"v":8},
{"p":70,"d":1,"v":0},{"p":70,"d":2,"v":0},{"p":70,"d":3,"v":2},{"p":70,"d":4,"v":4},{"p":70,"d":5,"v":6},
{"p":71,"d":1,"v":15},{"p":71,"d":2,"v":35},{"p":71,"d":3,"v":55},{"p":71,"d":4,"v":70},{"p":71,"d":5,"v":82},{"p":71,"d":6,"v":90},
{"p":72,"d":1,"v":8},{"p":72,"d":2,"v":25},{"p":72,"d":3,"v":45},{"p":72,"d":4,"v":60},{"p":72,"d":5,"v":72},{"p":72,"d":6,"v":80},{"p":72,"d":7,"v":86},
{"p":73,"d":1,"v":0},{"p":73,"d":2,"v":8},{"p":73,"d":3,"v":20},{"p":73,"d":4,"v":35},{"p":73,"d":5,"v":50},{"p":73,"d":6,"v":62},{"p":73,"d":7,"v":70},{"p":73,"d":8,"v":76},
{"p":74,"d":1,"v":0},{"p":74,"d":2,"v":4},{"p":74,"d":3,"v":10},{"p":74,"d":4,"v":18},{"p":74,"d":5,"v":26},{"p":74,"d":6,"v":34},{"p":74,"d":7,"v":42},{"p":74,"d":8,"v":48},{"p":74,"d":9,"v":52},
{"p":75,"d":1,"v":3},{"p":75,"d":2,"v":12},{"p":75,"d":3,"v":25},{"p":75,"d":4,"v":40},{"p":75,"d":5,"v":55},{"p":75,"d":6,"v":68},
{"p":76,"d":1,"v":0},{"p":76,"d":2,"v":12},{"p":76,"d":3,"v":30},{"p":76,"d":4,"v":50},{"p":76,"d":5,"v":68},{"p":76,"d":6,"v":82},{"p":76,"d":7,"v":92},
{"p":77,"d":1,"v":0},{"p":77,"d":2,"v":25},{"p":77,"d":3,"v":55},{"p":77,"d":4,"v":80},{"p":77,"d":5,"v":100},
{"p":78,"d":1,"v":0},{"p":78,"d":2,"v":6},{"p":78,"d":3,"v":15},{"p":78,"d":4,"v":25},{"p":78,"d":5,"v":35},{"p":78,"d":6,"v":45},{"p":78,"d":7,"v":55},{"p":78,"d":8,"v":62},
{"p":79,"d":1,"v":0},{"p":79,"d":2,"v":0},{"p":79,"d":3,"v":5},{"p":79,"d":4,"v":12},{"p":79,"d":5,"v":22},{"p":79,"d":6,"v":33},{"p":79,"d":7,"v":44},{"p":79,"d":8,"v":54},{"p":79,"d":9,"v":62},
{"p":80,"d":1,"v":0},{"p":80,"d":2,"v":0},{"p":80,"d":3,"v":0},{"p":80,"d":4,"v":2},{"p":80,"d":5,"v":5},{"p":80,"d":6,"v":9},{"p":80,"d":7,"v":13},
{"p":81,"d":1,"v":0},{"p":81,"d":2,"v":2},{"p":81,"d":3,"v":4},{"p":81,"d":4,"v":6},{"p":81,"d":5,"v":9},{"p":81,"d":6,"v":12},
{"p":82,"d":1,"v":0},{"p":82,"d":2,"v":3},{"p":82,"d":3,"v":6},{"p":82,"d":4,"v":10},{"p":82,"d":5,"v":14},{"p":82,"d":6,"v":18},{"p":82,"d":7,"v":22},{"p":82,"d":8,"v":26},
{"p":83,"d":1,"v":0},{"p":83,"d":2,"v":8},{"p":83,"d":3,"v":18},{"p":83,"d":4,"v":30},{"p":83,"d":5,"v":42},{"p":83,"d":6,"v":52},{"p":83,"d":7,"v":60},{"p":83,"d":8,"v":66},{"p":83,"d":9,"v":70},{"p":83,"d":10,"v":72},
{"p":84,"d":1,"v":0},{"p":84,"d":2,"v":15},{"p":84,"d":3,"v":35},{"p":84,"d":4,"v":55},{"p":84,"d":5,"v":70},{"p":84,"d":6,"v":80},{"p":84,"d":7,"v":85},{"p":84,"d":8,"v":88},{"p":84,"d":9,"v":90},
{"p":85,"d":1,"v":0},{"p":85,"d":2,"v":30},{"p":85,"d":3,"v":60},{"p":85,"d":4,"v":85},{"p":85,"d":5,"v":100},{"p":85,"d":6,"v":110},
{"p":86,"d":1,"v":0},{"p":86,"d":2,"v":10},{"p":86,"d":3,"v":25},{"p":86,"d":4,"v":45},{"p":86,"d":5,"v":65},{"p":86,"d":6,"v":80},{"p":86,"d":7,"v":92},{"p":86,"d":8,"v":100},
{"p":87,"d":1,"v":0},{"p":87,"d":2,"v":15},{"p":87,"d":3,"v":35},{"p":87,"d":4,"v":50},
{"p":88,"d":1,"v":0},{"p":88,"d":2,"v":0},{"p":88,"d":3,"v":10},{"p":88,"d":4,"v":22},{"p":88,"d":5,"v":35},
{"p":89,"d":1,"v":0},{"p":89,"d":2,"v":2},{"p":89,"d":3,"v":6},{"p":89,"d":4,"v":10},{"p":89,"d":5,"v":14},{"p":89,"d":6,"v":18},{"p":89,"d":7,"v":22},{"p":89,"d":8,"v":26},{"p":89,"d":9,"v":30},
{"p":90,"d":1,"v":5},{"p":90,"d":2,"v":10},{"p":90,"d":3,"v":16},{"p":90,"d":4,"v":22},{"p":90,"d":5,"v":28},{"p":90,"d":6,"v":34},{"p":90,"d":7,"v":40},
{"p":91,"d":1,"v":0},{"p":91,"d":2,"v":5},{"p":91,"d":3,"v":12},
{"p":92,"d":1,"v":0},{"p":92,"d":2,"v":1},{"p":92,"d":3,"v":3},{"p":92,"d":4,"v":6},{"p":92,"d":5,"v":10},{"p":92,"d":6,"v":15},
{"p":93,"d":1,"v":4},{"p":93,"d":2,"v":10},{"p":93,"d":3,"v":6},{"p":93,"d":4,"v":14},{"p":93,"d":5,"v":22},{"p":93,"d":6,"v":18},{"p":93,"d":7,"v":26},{"p":93,"d":8,"v":30},{"p":93,"d":9,"v":28},
{"p":94,"d":1,"v":0},{"p":94,"d":2,"v":5},{"p":94,"d":3,"v":15},{"p":94,"d":4,"v":10},{"p":94,"d":5,"v":20},{"p":94,"d":6,"v":28},{"p":94,"d":7,"v":24},{"p":94,"d":8,"v":32},{"p":94,"d":9,"v":36},{"p":94,"d":10,"v":34},
{"p":95,"d":1,"v":6},{"p":95,"d":2,"v":12},{"p":95,"d":3,"v":20},{"p":95,"d":4,"v":16},{"p":95,"d":5,"v":25},{"p":95,"d":6,"v":22},{"p":95,"d":7,"v":30},{"p":95,"d":8,"v":27},{"p":95,"d":9,"v":33},{"p":95,"d":10,"v":30},{"p":95,"d":11,"v":35},
{"p":96,"d":1,"v":0},{"p":96,"d":2,"v":8},{"p":96,"d":3,"v":4},{"p":96,"d":4,"v":12},{"p":96,"d":5,"v":18},{"p":96,"d":6,"v":15},{"p":96,"d":7,"v":22},{"p":96,"d":8,"v":20},
{"p":97,"d":1,"v":2},{"p":97,"d":2,"v":6},{"p":97,"d":3,"v":10},{"p":97,"d":4,"v":18},{"p":97,"d":5,"v":14},{"p":97,"d":6,"v":22},{"p":97,"d":7,"v":28},{"p":97,"d":8,"v":25},{"p":97,"d":9,"v":32},{"p":97,"d":10,"v":36},{"p":97,"d":11,"v":33},{"p":97,"d":12,"v":38},
{"p":98,"d":1,"v":12},{"p":98,"d":2,"v":18},{"p":98,"d":3,"v":28},{"p":98,"d":4,"v":22},{"p":98,"d":5,"v":35},{"p":98,"d":6,"v":30},{"p":98,"d":7,"v":40},
{"p":99,"d":1,"v":0},{"p":99,"d":2,"v":0},{"p":99,"d":3,"v":6},{"p":99,"d":4,"v":4},{"p":99,"d":5,"v":10},{"p":99,"d":6,"v":8},{"p":99,"d":7,"v":14},{"p":99,"d":8,"v":12},{"p":99,"d":9,"v":18},
{"p":100,"d":1,"v":8},{"p":100,"d":2,"v":15},{"p":100,"d":3,"v":25},{"p":100,"d":4,"v":35},{"p":100,"d":5,"v":30},{"p":100,"d":6,"v":42},{"p":100,"d":7,"v":48},{"p":100,"d":8,"v":44},{"p":100,"d":9,"v":50},{"p":100,"d":10,"v":55},
{"p":101,"d":1,"v":0},{"p":101,"d":2,"v":4},{"p":101,"d":3,"v":12},{"p":101,"d":4,"v":8},{"p":101,"d":5,"v":16},{"p":101,"d":6,"v":24},{"p":101,"d":7,"v":20},{"p":101,"d":8,"v":28},{"p":101,"d":9,"v":34},{"p":101,"d":10,"v":30},{"p":101,"d":11,"v":26},
{"p":102,"d":1,"v":10},{"p":102,"d":2,"v":22},{"p":102,"d":3,"v":38},{"p":102,"d":4,"v":50},{"p":102,"d":5,"v":45},{"p":102,"d":6,"v":58},{"p":102,"d":7,"v":65},{"p":102,"d":8,"v":60},
{"p":103,"d":1,"v":0},{"p":103,"d":2,"v":2},{"p":103,"d":3,"v":5},{"p":103,"d":4,"v":12},{"p":103,"d":5,"v":20},{"p":103,"d":6,"v":30},{"p":103,"d":7,"v":25},{"p":103,"d":8,"v":35},{"p":103,"d":9,"v":42},{"p":103,"d":10,"v":38},{"p":103,"d":11,"v":45},{"p":103,"d":12,"v":48},
{"p":104,"d":1,"v":4},{"p":104,"d":2,"v":8},{"p":104,"d":3,"v":14},{"p":104,"d":4,"v":20},{"p":104,"d":5,"v":26},{"p":104,"d":6,"v":22},{"p":104,"d":7,"v":30},{"p":104,"d":8,"v":35},{"p":104,"d":9,"v":32},
{"p":105,"d":1,"v":0},{"p":105,"d":2,"v":12},{"p":105,"d":3,"v":22},{"p":105,"d":4,"v":35},{"p":105,"d":5,"v":48},{"p":105,"d":6,"v":44},{"p":105,"d":7,"v":55},{"p":105,"d":8,"v":62},{"p":105,"d":9,"v":58},{"p":105,"d":10,"v":64},
{"p":106,"d":1,"v":0},{"p":106,"d":2,"v":6},{"p":106,"d":3,"v":16},{"p":106,"d":4,"v":28},{"p":106,"d":5,"v":24},{"p":106,"d":6,"v":36},{"p":106,"d":7,"v":44},{"p":106,"d":8,"v":40},{"p":106,"d":9,"v":50},{"p":106,"d":10,"v":46},{"p":106,"d":11,"v":54},
{"p":107,"d":1,"v":0},{"p":107,"d":2,"v":4},{"p":107,"d":3,"v":10},{"p":107,"d":4,"v":6},{"p":107,"d":5,"v":12},{"p":107,"d":6,"v":18},{"p":107,"d":7,"v":14},
{"p":108,"d":1,"v":2},{"p":108,"d":2,"v":6},{"p":108,"d":3,"v":12},{"p":108,"d":4,"v":20},{"p":108,"d":5,"v":30},{"p":108,"d":6,"v":38},{"p":108,"d":7,"v":34},{"p":108,"d":8,"v":44},{"p":108,"d":9,"v":50},
{"p":109,"d":1,"v":0},{"p":109,"d":2,"v":10},{"p":109,"d":3,"v":20},{"p":109,"d":4,"v":32},{"p":109,"d":5,"v":44},{"p":109,"d":6,"v":52},{"p":109,"d":7,"v":60},{"p":109,"d":8,"v":56},{"p":109,"d":9,"v":64},{"p":109,"d":10,"v":70},{"p":109,"d":11,"v":66},{"p":109,"d":12,"v":74},
{"p":110,"d":1,"v":6},{"p":110,"d":2,"v":14},{"p":110,"d":3,"v":24},{"p":110,"d":4,"v":38},{"p":110,"d":5,"v":54},{"p":110,"d":6,"v":66},{"p":110,"d":7,"v":74},{"p":110,"d":8,"v":80}
]},
"layer":[
{"data":{"name":"red"},
 "mark":{"type":"line","color":"#da1c25","strokeWidth":1.3,"opacity":0.9},
 "encoding":{
  "x":{"field":"d","type":"quantitative","scale":{"domain":[-0.07,45.05],"nice":false,"zero":false},
   "axis":{"values":[1,5,10,15,20,25,30,35,40,45],"title":"ICU day","grid":false,"domainColor":"#222","domainWidth":1.5,"tickColor":"#222","tickSize":8,"tickWidth":1.2,"labelFontSize":18,"labelColor":"#222","labelPadding":4,"labelFlush":false,"titleFontSize":20,"titleFontWeight":"bold","titleColor":"#111","titleX":-83,"titleY":10,"titleAlign":"center","titleBaseline":"middle"}},
  "y":{"field":"v","type":"quantitative","scale":{"domain":[-5.5,155],"nice":false,"zero":false},
   "axis":{"values":[0,33,66,100,133],"title":"% RECOMMENDED CALORIC INTAKE","grid":false,"domainColor":"#222","domainWidth":1.5,"tickColor":"#222","tickSize":11,"tickWidth":1.2,"labelFontSize":18,"labelColor":"#222","labelPadding":8,"labelFlush":false,"titleFontSize":19,"titleFontWeight":"normal","titleColor":"#333","titleAngle":-90,"titleX":-129,"titleY":215,"titleAlign":"center","titleBaseline":"middle"}},
  "detail":{"field":"p","type":"nominal"}}},
{"data":{"name":"red"},
 "mark":{"type":"point","shape":"circle","size":30,"filled":true,"fill":"#f0a0a0","fillOpacity":0.55,"stroke":"#d3232b","strokeWidth":1.2},
 "encoding":{"x":{"field":"d","type":"quantitative"},"y":{"field":"v","type":"quantitative"}}},
{"data":{"name":"ref"},
 "mark":{"type":"line","color":"#4a4a4a","strokeWidth":1.4},
 "encoding":{"x":{"field":"d","type":"quantitative"},"y":{"field":"v","type":"quantitative"}}},
{"data":{"name":"mean"},
 "mark":{"type":"line","color":"#1c7d97","strokeWidth":1.7},
 "encoding":{"x":{"field":"d","type":"quantitative"},"y":{"field":"v","type":"quantitative"}}},
{"data":{"name":"mean"},
 "transform":[{"filter":"datum.d <= 12"}],
 "mark":{"type":"line","color":"#26353a","strokeWidth":1.5},
 "encoding":{"x":{"field":"d","type":"quantitative"},"y":{"field":"v","type":"quantitative"}}},
{"data":{"name":"mean"},
 "mark":{"type":"point","shape":"M-1,-1L1,1M-1,1L1,-1","size":45,"filled":false,"stroke":"#1c7d97","strokeWidth":1.7},
 "encoding":{"x":{"field":"d","type":"quantitative"},"y":{"field":"v","type":"quantitative"}}}
]
}
